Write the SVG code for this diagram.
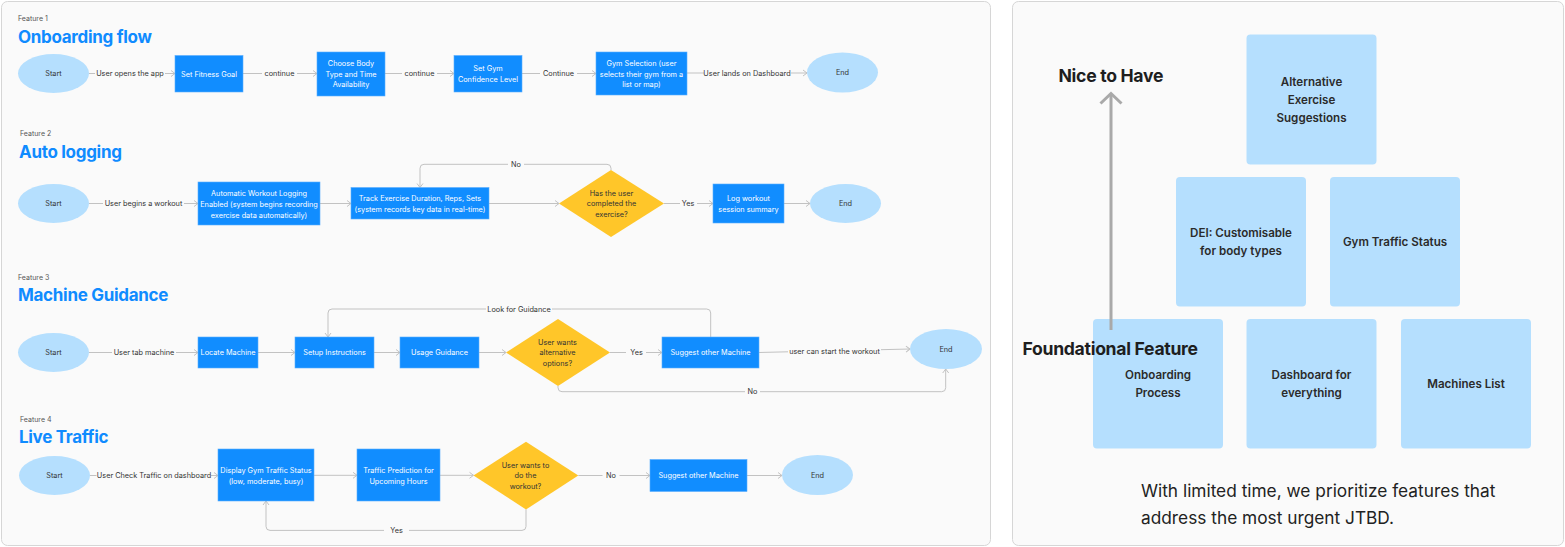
<svg xmlns="http://www.w3.org/2000/svg" width="1565" height="547" viewBox="0 0 1565 547">
<defs>
<style>
.panel{fill:#fafafa;stroke:#d6d6d6;stroke-width:1}
.feat{font-family:Inter,"Liberation Sans",sans-serif;font-size:7px;fill:#555}
.title{font-family:Inter,"Liberation Sans",sans-serif;font-size:17px;font-weight:700;fill:#0f8bff;letter-spacing:-0.3px}
.box{fill:#118dff;stroke:#5aaeff;stroke-width:0.6}
.ell{fill:#b5dffe}
.dia{fill:#ffc629}
.bt{font-family:Inter,"Liberation Sans",sans-serif;font-size:7.3px;fill:#ffffff;text-anchor:middle;dominant-baseline:central}
.dt{font-family:Inter,"Liberation Sans",sans-serif;font-size:7.3px;fill:#333;text-anchor:middle;dominant-baseline:central}
.lbl{font-family:Inter,"Liberation Sans",sans-serif;font-size:7.3px;fill:#333;text-anchor:middle;dominant-baseline:central}
.c{fill:none;stroke:#c2c2c2;stroke-width:1}
.ca{fill:none;stroke:#c2c2c2;stroke-width:1;marker-end:url(#arr)}
.pb{fill:#b5dffe}
.pt{font-family:Inter,"Liberation Sans",sans-serif;font-size:11.6px;font-weight:600;fill:#2b2b2b;text-anchor:middle;dominant-baseline:central}
.hd{font-family:Inter,"Liberation Sans",sans-serif;font-size:17.6px;font-weight:700;fill:#1e1e1e;dominant-baseline:central;letter-spacing:-0.3px}
.para{font-family:Inter,"Liberation Sans",sans-serif;font-size:17.3px;fill:#222;dominant-baseline:central}
</style>
<marker id="arr" viewBox="0 0 6 8" refX="5.5" refY="4" markerWidth="6" markerHeight="8" orient="auto" markerUnits="userSpaceOnUse">
<path d="M1.5,1 L5.5,4 L1.5,7" fill="none" stroke="#c2c2c2" stroke-width="1"/>
</marker>
</defs>
<rect x="0" y="0" width="1565" height="547" fill="#ffffff"/>
<rect class="panel" x="1.5" y="1.5" width="989" height="544" rx="6"/>
<rect class="panel" x="1012.5" y="1.5" width="551" height="544" rx="6"/>

<!-- headings -->
<g id="headings">
<text class="feat" x="18" y="20.5">Feature 1</text>
<text class="title" x="18" y="42.5">Onboarding flow</text>
<text class="feat" x="20" y="136">Feature 2</text>
<text class="title" x="19" y="157.5">Auto logging</text>
<text class="feat" x="18" y="280">Feature 3</text>
<text class="title" x="18" y="301">Machine Guidance</text>
<text class="feat" x="20" y="422">Feature 4</text>
<text class="title" x="19" y="442.5">Live Traffic</text>
</g>

<!-- connectors -->
<g id="connectors">
<!-- Feature 1 -->
<path class="c" d="M89,73.5 H95"/><path class="ca" d="M165,73.5 H175"/>
<path class="c" d="M243,73.5 H262"/><path class="ca" d="M297,73.5 H317"/>
<path class="c" d="M385,73.5 H402"/><path class="ca" d="M437,73.5 H454"/>
<path class="c" d="M522,73.5 H540"/><path class="ca" d="M577,73.5 H596"/>
<path class="c" d="M687,73 H704"/><path class="ca" d="M791,73 H807"/>
<text class="lbl" x="130" y="73.5">User opens the app</text>
<text class="lbl" x="279.5" y="73.5">continue</text>
<text class="lbl" x="419.5" y="73.5">continue</text>
<text class="lbl" x="558.5" y="73.5">Continue</text>
<text class="lbl" x="747" y="73">User lands on Dashboard</text>
<!-- Feature 2 -->
<path class="c" d="M89,203.5 H103"/><path class="ca" d="M184,203.5 H198"/>
<path class="ca" d="M320,203.5 H351"/>
<path class="ca" d="M489,203.5 H559"/>
<path class="c" d="M664,203.5 H680"/><path class="ca" d="M697,203.5 H713"/>
<path class="ca" d="M784,203.5 H810"/>
<path class="c" d="M611,170 V168.3 Q611,164.3 607,164.3 H524"/>
<path class="ca" d="M508,164.3 H424 Q420,164.3 420,168.3 V187.5"/>
<text class="lbl" x="143.5" y="203.5">User begins a workout</text>
<text class="lbl" x="688" y="203.5">Yes</text>
<text class="lbl" x="516" y="164.3">No</text>
<!-- Feature 3 -->
<path class="c" d="M89,352.5 H112"/><path class="ca" d="M176,352.5 H198"/>
<path class="ca" d="M258,352.5 H295"/>
<path class="ca" d="M374,352.5 H400"/>
<path class="ca" d="M479,352.5 H506"/>
<path class="c" d="M610,352.5 H626"/><path class="ca" d="M646,352.5 H662"/>
<path class="c" d="M759,352.5 L788,351.8"/><path class="ca" d="M881,349.7 L910,349"/>
<path class="c" d="M710.7,337 V313 Q710.7,309 706.7,309 H552"/>
<path class="ca" d="M486,309 H332 Q328,309 328,313 V337"/>
<path class="c" d="M558,386 V387.7 Q558,391.7 562,391.7 H745"/>
<path class="ca" d="M760,391.7 H941.7 Q945.7,391.7 945.7,387.7 V369"/>
<text class="lbl" x="144" y="352.5">User tab machine</text>
<text class="lbl" x="636.5" y="352.5">Yes</text>
<text class="lbl" x="834.5" y="351">user can start the workout</text>
<text class="lbl" x="519" y="309">Look for Guidance</text>
<text class="lbl" x="752.5" y="391.7">No</text>
<!-- Feature 4 -->
<path class="c" d="M90,475.5 H96.5"/><path class="ca" d="M211,475.5 H218"/>
<path class="ca" d="M314,475.3 H357"/>
<path class="ca" d="M440,475.3 H473.5"/>
<path class="c" d="M578.3,475.5 H602.5"/><path class="ca" d="M619.5,475.5 H650"/>
<path class="ca" d="M747,475.5 H782"/>
<path class="c" d="M526,509.4 V526.4 Q526,530.4 522,530.4 H409"/>
<path class="ca" d="M384,530.4 H270 Q266,530.4 266,526.4 V501"/>
<text class="lbl" x="154" y="475.5">User Check Traffic on dashboard</text>
<text class="lbl" x="611" y="475.5">No</text>
<text class="lbl" x="396.5" y="530.4">Yes</text>
</g>

<!-- Feature 1 nodes -->
<g id="f1-start"><ellipse class="ell" cx="53.5" cy="73.5" rx="35.5" ry="19.5"/><text class="dt" x="53.5" y="73.5">Start</text></g>
<g id="f1-goal"><rect class="box" x="175" y="55.5" width="68" height="36.5"/><text class="bt" x="209" y="74">Set Fitness Goal</text></g>
<g id="f1-body"><rect class="box" x="317" y="52" width="68" height="44"/><text class="bt" x="351" y="63.3">Choose Body</text><text class="bt" x="351" y="74">Type and Time</text><text class="bt" x="351" y="84.7">Availability</text></g>
<g id="f1-conf"><rect class="box" x="454" y="55.5" width="68" height="36.5"/><text class="bt" x="488" y="68.8">Set Gym</text><text class="bt" x="488" y="79.5">Confidence Level</text></g>
<g id="f1-gym"><rect class="box" x="596" y="52" width="91" height="43"/><text class="bt" x="641.5" y="63.5">Gym Selection (user</text><text class="bt" x="641.5" y="74.2">selects their gym from a</text><text class="bt" x="641.5" y="84.6">list or map)</text></g>
<g id="f1-end"><ellipse class="ell" cx="842.5" cy="72.5" rx="35.5" ry="20"/><text class="dt" x="842.5" y="72.5">End</text></g>

<!-- Feature 2 nodes -->
<g id="f2-start"><ellipse class="ell" cx="53.5" cy="203.5" rx="35.5" ry="19.5"/><text class="dt" x="53.5" y="203.5">Start</text></g>
<g id="f2-autolog"><rect class="box" x="198" y="182" width="122" height="43"/><text class="bt" x="259" y="193.5">Automatic Workout Logging</text><text class="bt" x="259" y="204.3">Enabled (system begins recording</text><text class="bt" x="259" y="215">exercise data automatically)</text></g>
<g id="f2-track"><rect class="box" x="351" y="187.5" width="138" height="31.5"/><text class="bt" x="420" y="198.3">Track Exercise Duration, Reps, Sets</text><text class="bt" x="420" y="209">(system records key data in real-time)</text></g>
<g id="f2-decision"><polygon class="dia" points="559,203.5 611,170 664,203.5 611,237"/><text class="dt" x="611.5" y="193.3">Has the user</text><text class="dt" x="611.5" y="203.7">completed the</text><text class="dt" x="611.5" y="214">exercise?</text></g>
<g id="f2-log"><rect class="box" x="713" y="184" width="71" height="39"/><text class="bt" x="748.5" y="198.3">Log workout</text><text class="bt" x="748.5" y="209">session summary</text></g>
<g id="f2-end"><ellipse class="ell" cx="845.5" cy="203.5" rx="35.5" ry="19.5"/><text class="dt" x="845.5" y="203.5">End</text></g>

<!-- Feature 3 nodes -->
<g id="f3-start"><ellipse class="ell" cx="53.5" cy="352.5" rx="35.5" ry="19.5"/><text class="dt" x="53.5" y="352.5">Start</text></g>
<g id="f3-locate"><rect class="box" x="198" y="337" width="60" height="31"/><text class="bt" x="228" y="352.5">Locate Machine</text></g>
<g id="f3-setup"><rect class="box" x="295" y="337" width="79" height="31"/><text class="bt" x="334.5" y="352.5">Setup Instructions</text></g>
<g id="f3-usage"><rect class="box" x="400" y="337" width="79" height="31"/><text class="bt" x="439.5" y="352.5">Usage Guidance</text></g>
<g id="f3-decision"><polygon class="dia" points="506,352.5 558,319 610,352.5 558,386"/><text class="dt" x="557.5" y="342.3">User wants</text><text class="dt" x="557.5" y="352.7">alternative</text><text class="dt" x="557.5" y="363">options?</text></g>
<g id="f3-suggest"><rect class="box" x="662" y="337" width="97" height="31"/><text class="bt" x="710.5" y="352.8">Suggest other Machine</text></g>
<g id="f3-end"><ellipse class="ell" cx="946" cy="349" rx="36" ry="20"/><text class="dt" x="946" y="349">End</text></g>

<!-- Feature 4 nodes -->
<g id="f4-start"><ellipse class="ell" cx="54.5" cy="475.5" rx="35.5" ry="19.5"/><text class="dt" x="54.5" y="475.5">Start</text></g>
<g id="f4-display"><rect class="box" x="218" y="449" width="96" height="52"/><text class="bt" x="266" y="470">Display Gym Traffic Status</text><text class="bt" x="266" y="481">(low, moderate, busy)</text></g>
<g id="f4-predict"><rect class="box" x="357" y="449" width="83" height="52"/><text class="bt" x="398.5" y="470">Traffic Prediction for</text><text class="bt" x="398.5" y="481">Upcoming Hours</text></g>
<g id="f4-decision"><polygon class="dia" points="473.5,475.5 526,441.8 578.3,475.5 526,509.4"/><text class="dt" x="525.5" y="465.5">User wants to</text><text class="dt" x="525.5" y="475.6">do the</text><text class="dt" x="525.5" y="486.3">workout?</text></g>
<g id="f4-suggest"><rect class="box" x="650" y="459.5" width="97" height="32"/><text class="bt" x="698.5" y="475.5">Suggest other Machine</text></g>
<g id="f4-end"><ellipse class="ell" cx="817.5" cy="475" rx="35.5" ry="20"/><text class="dt" x="817.5" y="475">End</text></g>

<!-- Priority panel -->
<g id="p-alt"><rect class="pb" x="1246.5" y="34.5" width="130" height="130" rx="4"/><text class="pt" x="1311.5" y="82">Alternative</text><text class="pt" x="1311.5" y="100">Exercise</text><text class="pt" x="1311.5" y="118">Suggestions</text></g>
<g id="p-dei"><rect class="pb" x="1176" y="177" width="130" height="129.5" rx="4"/><text class="pt" x="1241" y="232.7">DEI: Customisable</text><text class="pt" x="1241" y="250.7">for body types</text></g>
<g id="p-traffic"><rect class="pb" x="1330" y="177" width="130" height="129.5" rx="4"/><text class="pt" x="1395" y="241.7">Gym Traffic Status</text></g>
<g id="p-onboard"><rect class="pb" x="1093" y="319" width="130" height="129.5" rx="4"/><text class="pt" x="1158" y="375">Onboarding</text><text class="pt" x="1158" y="393">Process</text></g>
<g id="p-dash"><rect class="pb" x="1246.5" y="319" width="130" height="129.5" rx="4"/><text class="pt" x="1311.5" y="375">Dashboard for</text><text class="pt" x="1311.5" y="393">everything</text></g>
<g id="p-machines"><rect class="pb" x="1401" y="319" width="130" height="129.5" rx="4"/><text class="pt" x="1466" y="384">Machines List</text></g>
<g id="p-axis">
<path d="M1111,330 V95" fill="none" stroke="#a9a9a9" stroke-width="3"/>
<path d="M1100.5,103.5 L1111,93.5 L1121.5,103.5" fill="none" stroke="#a9a9a9" stroke-width="3"/>
</g>
<text class="hd" x="1058.5" y="75.7">Nice to Have</text>
<text class="hd" x="1022.5" y="348">Foundational Feature</text>
<text class="para" x="1141" y="490">With limited time, we prioritize features that</text>
<text class="para" x="1141" y="517">address the most urgent JTBD.</text>
</svg>
